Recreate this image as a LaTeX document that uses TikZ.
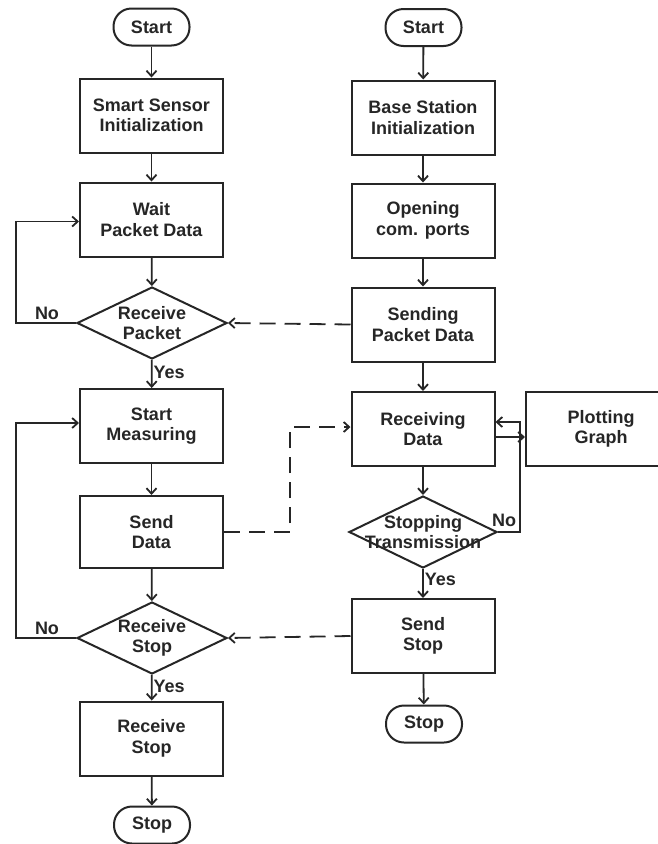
\documentclass[tikz,border=0pt]{standalone}
\usepackage{fontspec}
\setmainfont{Liberation Sans}
\usetikzlibrary{shapes.geometric,arrows.meta,calc}
\begin{document}
\begin{tikzpicture}[x=1pt,y=-1pt,
  txt/.style={font=\fontsize{18}{20.5}\selectfont\bfseries, text=black!85},
  proc/.style={draw=black!85, line width=2pt, minimum width=143pt, minimum height=74pt, align=center, inner sep=0pt, txt},
  term/.style={draw=black!85, line width=2pt, rounded corners=18pt, minimum width=76pt, minimum height=37pt, inner sep=0pt, txt},
  dec/.style={diamond, draw=black!85, line width=2pt, minimum width=150pt, minimum height=72pt, inner sep=0pt},
  dlab/.style={align=center, txt},
  flow/.style={draw=black!85, line width=1.8pt, -{Straight Barb[length=5.5pt,width=10pt]}},
  dflow/.style={flow, dash pattern=on 16pt off 9pt},
  lbl/.style={txt, inner sep=0pt}]
\useasboundingbox (0,0) rectangle (657,844);
\fill[white] (0,0) rectangle (657,844);
% left column
\node[term] (s1) at (151.5,27) {Start};
\node[proc] (a1) at (151.5,115.5) {Smart Sensor\\Initialization};
\node[proc] (a2) at (151.5,219.5) {Wait\\Packet Data};
\node[dec, label={[dlab]center:{Receive\\Packet}}] (d1) at (152,323) {};
\node[proc] (a3) at (151.5,426) {Start\\Measuring};
\node[proc, minimum height=72pt] (a4) at (151.5,532) {Send\\Data};
\node[dec, label={[dlab]center:{Receive\\Stop}}] (d2) at (152,638) {};
\node[proc] (a5) at (151.5,738.5) {Receive\\Stop};
\node[term] (s2) at (152,825) {Stop};
% right column
\node[term] (s3) at (423.5,27.5) {Start};
\node[proc] (b1) at (423,117.5) {Base Station\\Initialization};
\node[proc] (b2) at (423,220.5) {Opening\\com. ports};
\node[proc] (b3) at (423,324.5) {Sending\\Packet Data};
\node[proc] (b4) at (423,429) {Receiving\\Data};
\node[proc, minimum width=150pt] (p) at (601,429) {Plotting\\Graph};
\node[dec, minimum width=148pt, label={[dlab]center:{Stopping\\Transmission}}] (d3) at (423,532) {};
\node[proc] (b5) at (423,636) {Send\\Stop};
\node[term] (s4) at (424,724) {Stop};
% corners
\coordinate (c1) at (16,323);
\coordinate (c2) at (16,638);
\coordinate (c3) at (290,532);
\coordinate (c4) at (520,532);
% left flow
\draw[flow] (s1) -- (a1);
\draw[flow] (a1) -- (a2);
\draw[flow] (a2) -- (d1);
\draw[flow] (d1) -- (a3) node[lbl, pos=0.45, right=1pt] (y1) {Yes};
\draw[flow] (a3) -- (a4);
\draw[flow] (a4) -- (d2);
\draw[flow] (d2) -- (a5) node[lbl, pos=0.45, right=1pt] (y2) {Yes};
\draw[flow] (a5) -- (s2);
\draw[flow] (d1.west) -- (c1) |- ([yshift=-2pt]a2.west);
\node[lbl] (n1) at (47,313) {No};
\draw[flow] (d2.west) -- (c2) |- ([yshift=3pt]a3.west);
\node[lbl] (n2) at (47,628) {No};
% right flow
\draw[flow] (s3) -- (b1);
\draw[flow] (b1) -- (b2);
\draw[flow] (b2) -- (b3);
\draw[flow] (b3) -- (b4);
\draw[flow] (b4) -- (d3);
\draw[flow] (d3) -- (b5) node[lbl, pos=0.35, right=1pt] (y3) {Yes};
\draw[flow] (b5) -- (s4);
\draw[flow] ([yshift=-8pt]b4.east) -- ([yshift=-8pt]b4.east -| p.west);
\draw[flow] (d3.east) -- (c4) |- ([yshift=7pt]b4.east);
\node[lbl] (n3) at (504,520) {No};
% dashed links
\draw[dflow] (b3.west) -- (d1.east);
\draw[dflow] (a4.east) -- (c3) |- ([yshift=2pt]b4.west);
\draw[dflow] (b5.west) -- (d2.east);
\end{tikzpicture}
\end{document}
